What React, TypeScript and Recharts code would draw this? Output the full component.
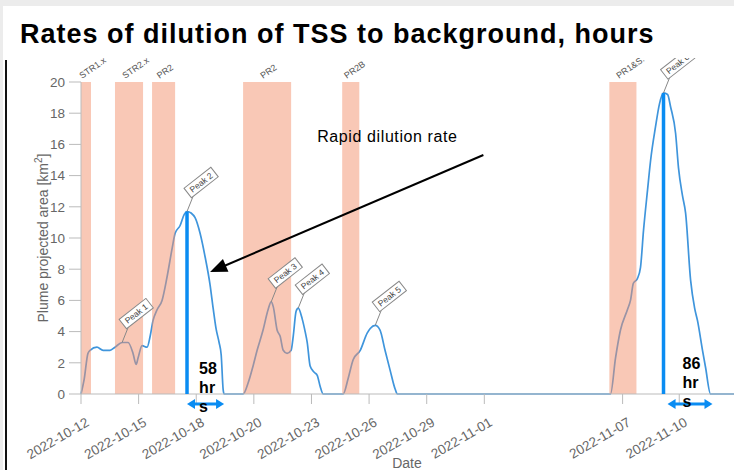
import React from "react";
import {
  Line,
  LineChart,
  ReferenceArea,
  ReferenceDot,
  ReferenceLine,
  XAxis,
  YAxis,
} from "recharts";

// days since 2022-10-12 and plume area (km2)
const dayOffset = [
  0, 0.16, 0.36, 0.47, 0.83, 1.15, 1.51, 1.77, 2.14, 2.45,
  2.71, 2.87, 2.97, 3.18, 3.44, 3.6, 3.75, 3.96, 4.22, 4.48,
  4.74, 4.9, 5.16, 5.37, 5.52, 5.73, 5.94, 6.2, 6.46, 6.72,
  6.88, 7.03, 7.19, 7.3, 7.4, 7.45, 8.44, 8.7, 8.96, 9.17,
  9.48, 9.74, 9.9, 10.01, 10.21, 10.37, 10.53, 10.73, 10.94, 11.05,
  11.2, 11.31, 11.52, 11.67, 11.78, 11.93, 12.14, 12.3, 12.45, 12.61,
  13.65, 13.91, 14.17, 14.54, 14.9, 15.06, 15.32, 15.57, 15.83, 16.1,
  16.36, 16.47, 27.57, 27.83, 28.09, 28.45, 28.61, 28.76, 28.97, 29.13,
  29.29, 29.5, 29.66, 29.91, 30.12, 30.33, 30.54, 30.7, 30.96, 31.11,
  31.32, 31.48, 31.74, 31.95, 32.1, 32.36, 32.52, 32.78, 34,
];
const plumeArea = [
  0, 0.9, 2.6, 2.8, 3.0, 2.8, 2.8, 3.0, 3.3, 3.3,
  2.6, 1.9, 2.3, 3.1, 3.0, 3.7, 4.7, 5.4, 6.0, 7.5,
  9.3, 10.3, 10.8, 11.5, 11.7, 11.6, 11.3, 10.3, 8.8, 7.0,
  5.5, 4.2, 3.3, 2.5, 0.3, 0, 0, 0.7, 1.8, 2.8,
  4.1, 5.4, 5.9, 5.6, 4.1, 3.7, 2.8, 2.6, 2.8, 3.7,
  5.3, 5.5, 4.8, 4.0, 3.3, 1.8, 1.4, 1.2, 0.5, 0,
  0, 1.0, 2.2, 2.8, 3.9, 4.2, 4.4, 4.1, 2.8, 1.5,
  0.3, 0, 0, 2.3, 4.1, 5.4, 6.0, 7.1, 7.4, 8.1,
  10.5, 13.1, 15.0, 17.1, 18.6, 19.3, 19.2, 18.4, 16.7, 14.5,
  12.7, 11.6, 7.3, 5.5, 4.7, 2.8, 1.7, 0, 0,
];

const tickDays = [0, 3, 6, 9, 12, 15, 18, 21, 28.2, 31.15];
const tickLabels = [
  "2022-10-12", "2022-10-15", "2022-10-18", "2022-10-20", "2022-10-23",
  "2022-10-26", "2022-10-29", "2022-11-01", "2022-11-07", "2022-11-10",
];
const yTicks = [0, 2, 4, 6, 8, 10, 12, 14, 16, 18, 20];

// release windows
const releaseNames = ["STR1.x", "STR2.x", "PR2", "PR2", "PR2B", "PR1&S."];
const releaseStart = [0, 1.77, 3.7, 8.44, 13.6, 27.51];
const releaseEnd = [0.52, 3.23, 4.9, 10.94, 14.49, 28.92];

const peakNames = ["Peak 1", "Peak 2", "Peak 3", "Peak 4", "Peak 5", "Peak 6"];
const peakDay = [2.14, 5.52, 9.9, 11.31, 15.32, 30.33];
const peakArea = [3.3, 11.7, 5.9, 5.5, 4.4, 19.3];

// dilution back to background after peaks 2 and 6
const dilutedPeaks = [1, 5];
const spanStart = [5.52, 30.54];
const spanEnd = [7.45, 32.88];
const spanLevel = -0.64;
const spanHours = ["58", "86"];
const spanLabelDay = [6.15, 31.32];
const spanLabelArea = [1.28, 1.6];

const noteText = "Rapid dilution rate";
const noteTextAt = [12.3, 16.15];
const noteFrom = [20.95, 15.32];
const noteTo = [6.72, 7.82];

const data = dayOffset.map((d, i) => ({ day: d, area: plumeArea[i] }));

const FONT = "'Liberation Sans', Arial, sans-serif";
const GREY = "#666";
const BRIGHT = "#0a8cf2";

function head(x1: number, y1: number, x2: number, y2: number, len: number, half: number, color: string) {
  const a = Math.atan2(y2 - y1, x2 - x1);
  const bx = x2 - len * Math.cos(a);
  const by = y2 - len * Math.sin(a);
  const px = -Math.sin(a) * half;
  const py = Math.cos(a) * half;
  return (
    <polygon
      points={`${x2},${y2} ${bx + px},${by + py} ${bx - px},${by - py}`}
      fill={color}
    />
  );
}

const DateTick = ({ x, y, payload }: any) => {
  const i = tickDays.indexOf(payload.value);
  return (
    <g transform={`translate(${x + 9},${y + 21})`}>
      <text transform="rotate(-30)" textAnchor="end" fill={GREY} fontSize={13.5} fontFamily={FONT}>
        {tickLabels[i]}
      </text>
    </g>
  );
};

const releaseShape = (name: string) => (p: any) => (
  <g>
    <rect x={p.x} y={p.y} width={p.width} height={p.height} fill="#f4916e" fillOpacity={0.5} />
    <text
      transform={`translate(${p.x + p.width / 2 - 4},${p.y - 3}) rotate(-35)`}
      fontSize={9}
      fill="#555"
      fontFamily={FONT}
    >
      {name}
    </text>
  </g>
);

const peakShape = (name: string) => (p: any) => {
  const ex = p.cx + 6;
  const ey = p.cy - 15;
  return (
    <g>
      <line x1={p.cx} y1={p.cy} x2={ex} y2={ey} stroke="#888" strokeWidth={1} />
      <g transform={`translate(${ex},${ey}) rotate(-38)`}>
        <rect x={-2} y={-12} width={34} height={12} fill="#fff" stroke="#888" strokeWidth={1} />
        <text x={15} y={-3} textAnchor="middle" fontSize={8.5} fill="#444" fontFamily={FONT}>
          {name}
        </text>
      </g>
    </g>
  );
};

const doubleArrow = (p: any) => {
  const { x1, y1, x2, y2 } = p;
  return (
    <g>
      <line x1={x1 + 7} y1={y1} x2={x2 - 7} y2={y2} stroke={BRIGHT} strokeWidth={3} />
      {head(x2, y2, x1, y1, 8, 5, BRIGHT)}
      {head(x1, y1, x2, y2, 8, 5, BRIGHT)}
    </g>
  );
};

const noteArrow = (p: any) => {
  const { x1, y1, x2, y2 } = p;
  const a = Math.atan2(y2 - y1, x2 - x1);
  return (
    <g>
      <line
        x1={x1}
        y1={y1}
        x2={x2 - 14 * Math.cos(a)}
        y2={y2 - 14 * Math.sin(a)}
        stroke="#000"
        strokeWidth={2}
      />
      {head(x1, y1, x2, y2, 17, 7, "#000")}
    </g>
  );
};

const hoursShape = (hrs: string) => (p: any) => (
  <text x={p.cx} y={p.cy} fontSize={16} fontWeight="bold" fill="#000" fontFamily={FONT}>
    <tspan x={p.cx}>{hrs}</tspan>
    <tspan x={p.cx} dy={19}>hr</tspan>
    <tspan x={p.cx} dy={19}>s</tspan>
  </text>
);

const noteShape = (p: any) => (
  <text x={p.cx} y={p.cy} fontSize={16} letterSpacing={0.6} fill="#000" fontFamily={FONT}>
    {noteText}
  </text>
);

const YTitle = () => (
  <text
    transform="rotate(-90 43 238)"
    x={43}
    y={238}
    textAnchor="middle"
    dominantBaseline="central"
    fontSize={14}
    fill={GREY}
    fontFamily={FONT}
  >
    Plume projected area [km
    <tspan dy={-5} fontSize={10}>2</tspan>
    <tspan dy={5}>]</tspan>
  </text>
);

const XTitle = () => (
  <text x={407} y={468} textAnchor="middle" fontSize={14} fill={GREY} fontFamily={FONT}>
    Date
  </text>
);

export default function App() {
  return (
    <div
      style={{
        position: "absolute",
        left: 0,
        top: 0,
        width: 734,
        height: 470,
        background: "#ececec",
        overflow: "hidden",
        fontFamily: FONT,
      }}
    >
      <div style={{ position: "absolute", left: 3, top: 6, width: 731, height: 464, background: "#fff" }} />
      <div style={{ position: "absolute", left: 0, top: 0 }}>
        <LineChart
          width={734}
          height={470}
          data={data}
          margin={{ top: 82, right: 0, bottom: 0, left: 0 }}
        >
          <XAxis
            dataKey="day"
            type="number"
            domain={[0, 34]}
            ticks={tickDays}
            interval={0}
            height={76}
            tickSize={10}
            tickMargin={0}
            stroke="#bbb"
            tick={<DateTick />}
            label={{ content: XTitle }}
          />
          <YAxis
            type="number"
            domain={[0, 20]}
            ticks={yTicks}
            interval={0}
            width={81}
            tickSize={12}
            tickMargin={4}
            stroke="#bbb"
            tick={{ fill: GREY, fontSize: 13.5, fontFamily: FONT }}
            label={{ content: YTitle }}
          />
          <Line
            type="monotone"
            dataKey="area"
            stroke="#3f95dc"
            strokeWidth={1.7}
            dot={false}
            activeDot={false}
            isAnimationActive={false}
          />
          {releaseNames.map((n, i) => (
            <ReferenceArea
              key={`rel-${i}`}
              x1={releaseStart[i]}
              x2={releaseEnd[i]}
              y1={0}
              y2={20}
              zIndex={450}
              shape={releaseShape(n)}
            />
          ))}
          {dilutedPeaks.map((k) => (
            <ReferenceLine
              key={`vl-${k}`}
              segment={[
                { x: peakDay[k], y: 0 },
                { x: peakDay[k], y: peakArea[k] },
              ]}
              stroke={BRIGHT}
              strokeWidth={3.5}
              zIndex={700}
            />
          ))}
          {peakNames.map((n, i) => (
            <ReferenceDot
              key={`pk-${i}`}
              x={peakDay[i]}
              y={peakArea[i]}
              r={1}
              zIndex={700}
              shape={peakShape(n)}
            />
          ))}
          {spanHours.map((h, i) => (
            <ReferenceLine
              key={`span-${i}`}
              segment={[
                { x: spanStart[i], y: spanLevel },
                { x: spanEnd[i], y: spanLevel },
              ]}
              ifOverflow="visible"
              zIndex={700}
              shape={doubleArrow}
            />
          ))}
          {spanHours.map((h, i) => (
            <ReferenceDot
              key={`hrs-${i}`}
              x={spanLabelDay[i]}
              y={spanLabelArea[i]}
              r={1}
              zIndex={700}
              shape={hoursShape(h)}
            />
          ))}
          <ReferenceLine
            segment={[
              { x: noteFrom[0], y: noteFrom[1] },
              { x: noteTo[0], y: noteTo[1] },
            ]}
            zIndex={700}
            shape={noteArrow}
          />
          <ReferenceDot x={noteTextAt[0]} y={noteTextAt[1]} r={1} zIndex={700} shape={noteShape} />
        </LineChart>
      </div>
      <div
        style={{
          position: "absolute",
          left: 3,
          top: 6,
          width: 731,
          height: 52,
          background: "#fff",
          zIndex: 2,
        }}
      >
        <div
          style={{
            position: "absolute",
            left: 17,
            top: 13,
            fontSize: 27,
            letterSpacing: 1,
            fontWeight: "bold",
            color: "#000",
            lineHeight: "30px",
            whiteSpace: "nowrap",
          }}
        >
          Rates of dilution of TSS to background, hours
        </div>
      </div>
      <div style={{ position: "absolute", left: 5, top: 60, width: 2, height: 410, background: "#111", zIndex: 3 }} />
    </div>
  );
}
